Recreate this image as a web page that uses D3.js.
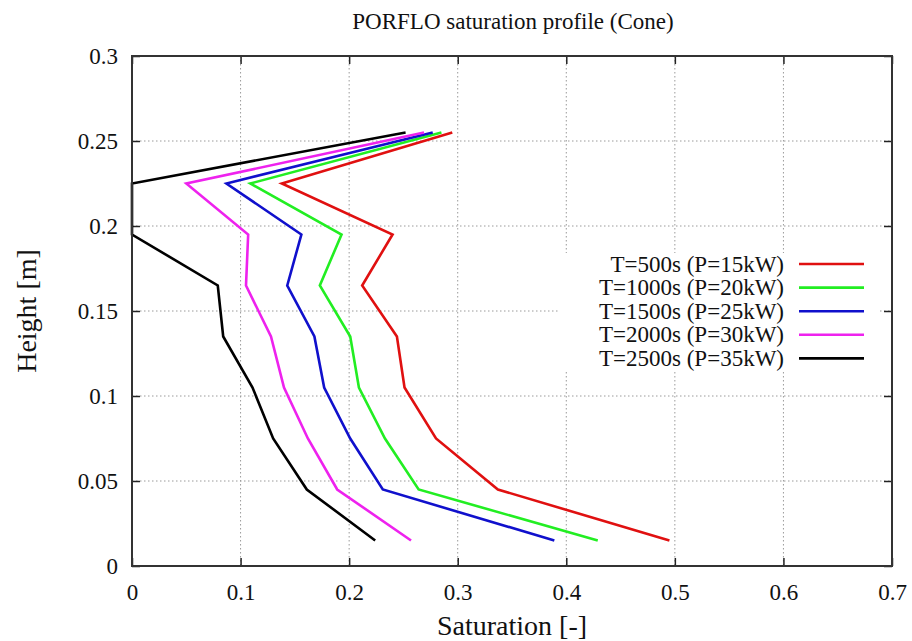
<!DOCTYPE html>
<html>
<head>
<meta charset="utf-8">
<script src="https://cdn.jsdelivr.net/npm/d3@7"></script>
<style>
  html, body { margin: 0; padding: 0; background: #fff; }
  svg { display: block; font-family: "Liberation Serif", "DejaVu Serif", serif; }
</style>
</head>
<body>
<svg id="chart" width="912" height="641"></svg>
<script>
// ---- data ----
const heights = [0.015, 0.045, 0.075, 0.105, 0.135, 0.165, 0.195, 0.225, 0.255];
const satT500  = [0.495, 0.337, 0.280, 0.251, 0.244, 0.212, 0.240, 0.138, 0.295];
const satT1000 = [0.429, 0.264, 0.233, 0.209, 0.201, 0.173, 0.193, 0.109, 0.285];
const satT1500 = [0.389, 0.231, 0.201, 0.177, 0.168, 0.143, 0.156, 0.087, 0.277];
const satT2000 = [0.257, 0.189, 0.162, 0.140, 0.128, 0.105, 0.107, 0.050, 0.269];
const satT2500 = [0.224, 0.161, 0.130, 0.111, 0.084, 0.079, 0.000, 0.000, 0.252];
const seriesLabels = ["T=500s (P=15kW)", "T=1000s (P=20kW)", "T=1500s (P=25kW)", "T=2000s (P=30kW)", "T=2500s (P=35kW)"];
const xTicks = [0, 0.1, 0.2, 0.3, 0.4, 0.5, 0.6, 0.7];
const yTicks = [0, 0.05, 0.1, 0.15, 0.2, 0.25, 0.3];
const titleText = "PORFLO saturation profile (Cone)";
const xTitle = "Saturation [-]";
const yTitle = "Height [m]";

// ---- styles ----
const colors = ["#e01010", "#22ee22", "#1010cc", "#ee22ee", "#000000"];
const allSeries = [satT500, satT1000, satT1500, satT2000, satT2500];

const svg = d3.select("#chart");
const L = 132, R = 892, T = 56, B = 566;

const x = d3.scaleLinear().domain([0, 0.7]).range([L, R]);
const y = d3.scaleLinear().domain([0, 0.3]).range([B, T]);

// grid
const grid = svg.append("g");
grid.selectAll(".vg").data(xTicks.slice(1, -1)).enter().append("line")
  .attr("x1", d => x(d)).attr("x2", d => x(d)).attr("y1", T).attr("y2", B)
  .attr("stroke", "#9a9a9a").attr("stroke-width", 1).attr("stroke-dasharray", "1.5,2.5");
grid.selectAll(".hg").data(yTicks.slice(1, -1)).enter().append("line")
  .attr("y1", d => y(d)).attr("y2", d => y(d)).attr("x1", L).attr("x2", R)
  .attr("stroke", "#9a9a9a").attr("stroke-width", 1).attr("stroke-dasharray", "1.5,2.5");

// legend background (hides grid)
svg.append("rect").attr("x", 558).attr("y", 253).attr("width", 322).attr("height", 118).attr("fill", "#fff");

// axes
const fmt = d => d === 0 ? "0" : d3.format("")(+d.toFixed(2));
const tickLen = 8;
const axB = svg.append("g").attr("transform", `translate(0,${B})`)
  .call(d3.axisBottom(x).tickValues(xTicks).tickFormat(fmt).tickSizeInner(-tickLen).tickSizeOuter(0).tickPadding(22));
const axT = svg.append("g").attr("transform", `translate(0,${T})`)
  .call(d3.axisTop(x).tickValues(xTicks).tickFormat("").tickSizeInner(-tickLen).tickSizeOuter(0));
const axL = svg.append("g").attr("transform", `translate(${L},0)`)
  .call(d3.axisLeft(y).tickValues(yTicks).tickFormat(fmt).tickSizeInner(-tickLen).tickSizeOuter(0).tickPadding(22));
const axR = svg.append("g").attr("transform", `translate(${R},0)`)
  .call(d3.axisRight(y).tickValues(yTicks).tickFormat("").tickSizeInner(-tickLen).tickSizeOuter(0));
[axB, axT, axL, axR].forEach(a => {
  a.select(".domain").remove();
  a.selectAll(".tick line").attr("stroke", "#222").attr("stroke-width", 1.5);
  a.selectAll("text").attr("font-family", "Liberation Serif, serif").attr("font-size", 23).attr("fill", "#111");
});
axL.selectAll("text").attr("x", -14);
axB.selectAll("text").attr("dy", "0.71em").attr("y", 18);

// series lines
const line = d3.line().x(d => x(d[0])).y(d => y(d[1]));
allSeries.forEach((s, i) => {
  svg.append("path")
    .datum(s.map((v, k) => [v, heights[k]]))
    .attr("d", line).attr("fill", "none")
    .attr("stroke", colors[i]).attr("stroke-width", 2.6).attr("stroke-linejoin", "miter");
});

// frame
svg.append("rect").attr("x", L).attr("y", T).attr("width", R - L).attr("height", B - T)
  .attr("fill", "none").attr("stroke", "#333").attr("stroke-width", 2);

// legend
const leg = svg.append("g");
seriesLabels.forEach((lab, i) => {
  const yy = 264 + i * 23.6;
  leg.append("text").attr("x", 784).attr("y", yy).attr("dy", "0.33em")
    .attr("text-anchor", "end").attr("font-size", 23).attr("fill", "#111").text(lab);
  leg.append("line").attr("x1", 799).attr("x2", 864).attr("y1", yy).attr("y2", yy)
    .attr("stroke", colors[i]).attr("stroke-width", 2.6);
});

// titles
svg.append("text").attr("x", 513).attr("y", 29).attr("text-anchor", "middle")
  .attr("font-size", 23).attr("fill", "#111").text(titleText);
svg.append("text").attr("x", 512).attr("y", 635).attr("text-anchor", "middle")
  .attr("font-size", 28).attr("fill", "#111").text(xTitle);
svg.append("text").attr("transform", "translate(36,311) rotate(-90)").attr("text-anchor", "middle")
  .attr("font-size", 28).attr("fill", "#111").text(yTitle);
</script>
</body>
</html>
